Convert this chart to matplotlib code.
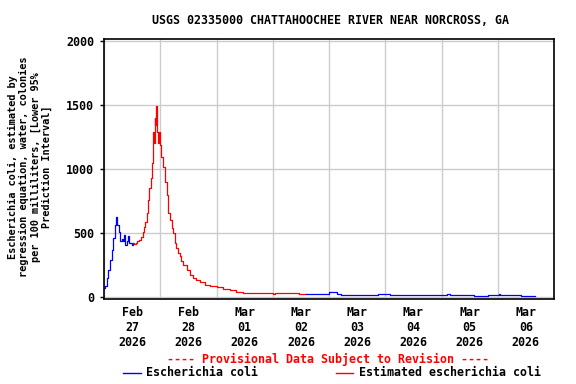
import numpy as np
import pandas as pd
import matplotlib
matplotlib.use('Agg')
import matplotlib.pyplot as plt
import matplotlib.dates as mdates
from matplotlib.lines import Line2D

# Hours after 2026-02-27 00:00 and values
start = pd.Timestamp('2026-02-27 00:00')

blue1_h = [0.0, 0.5, 1.1, 1.8, 2.6, 3.3, 4.0, 4.7, 5.2, 5.7, 6.2, 6.8, 7.5, 8.0,
           8.5, 9.1, 9.6, 10.2, 10.7, 11.3, 11.9, 12.3]
blue1_v = [70, 83, 148, 213, 291, 369, 460, 564, 624, 564, 512, 434, 452, 434,
           486, 408, 434, 478, 426, 421, 408, 421]

red_h = [12.3, 12.9, 13.5, 14.2, 15.0, 15.9, 16.5, 17.0, 17.6, 18.2, 18.7, 19.3,
         19.9, 20.3, 20.7, 21.0, 21.3, 21.6, 21.9, 22.3, 22.6, 23.0, 23.5, 24.0,
         24.5, 25.2, 26.0, 26.7, 27.4, 28.1, 28.8, 29.5, 30.2, 30.9, 31.6, 32.3,
         33.0, 33.7, 35.2, 36.6, 38.0, 39.4, 40.9, 43.0, 45.1, 48.0, 50.8, 53.6,
         56.5, 59.3, 65.0, 72.0, 73.0, 75.0, 83.0, 86.3]
red_v = [421, 413, 421, 434, 442, 468, 512, 551, 590, 655, 759, 850,
         928, 1045, 1097, 1292, 1201, 1396, 1344, 1492, 1292, 1201, 1292, 1188,
         1097, 1019, 902, 798, 655, 603, 538, 499, 421, 382, 343, 317,
         278, 252, 213, 174, 148, 130, 114, 96, 88, 78, 62, 52,
         41, 34, 31, 26, 31, 31, 26, 21]

blue2_h = [86.3, 96.0, 99.6, 101.0, 117.0, 122.0, 126.5, 146.5, 147.5, 158.0,
           164.0, 168.5, 169.0, 178.0, 184.0]
blue2_v = [21, 36, 26, 18, 26, 18, 18, 26, 18, 10,
           18, 26, 18, 8, 8]

title = 'USGS 02335000 CHATTAHOOCHEE RIVER NEAR NORCROSS, GA'
ylabel = ('Escherichia coli, estimated by\nregression equation, water, colonies\n'
          'per 100 milliliters, [Lower 95%\nPrediction Interval]')
yticks = [0, 500, 1000, 1500, 2000]


def to_time(hours):
    return start + pd.to_timedelta(hours, unit='h')


font = 'DejaVu Sans Mono'
fs = 8.4

fig = plt.figure(figsize=(5.76, 3.84), dpi=100)
ax = fig.add_axes([104 / 576, 1 - 299 / 384, 450 / 576, 260 / 384])

ax.plot(to_time(blue1_h), blue1_v, color='blue', lw=0.9, drawstyle='steps-post')
ax.plot(to_time(red_h), red_v, color='red', lw=0.9, drawstyle='steps-post')
ax.plot(to_time(blue2_h), blue2_v, color='blue', lw=0.9, drawstyle='steps-post')

ax.set_xlim(start, start + pd.Timedelta(days=8))
ax.set_ylim(-15, 2015)

# gridlines at midnight, labels at noon
ax.xaxis.set_major_locator(mdates.DayLocator())
ax.xaxis.set_major_formatter(plt.NullFormatter())
ax.xaxis.set_minor_locator(mdates.HourLocator(byhour=[12]))
ax.xaxis.set_minor_formatter(mdates.DateFormatter('%b\n%d\n%Y'))
ax.tick_params(axis='x', which='both', length=0, pad=5)
for lab in ax.get_xticklabels(minor=True):
    lab.set_fontfamily(font)
    lab.set_fontweight('bold')
    lab.set_fontsize(fs)

ax.set_yticks(yticks)
ax.tick_params(axis='y', length=3, width=1, pad=4)
for lab in ax.get_yticklabels():
    lab.set_fontfamily(font)
    lab.set_fontweight('bold')
    lab.set_fontsize(fs)

ax.grid(True, which='major', color='#cccccc', lw=1.0)
ax.set_axisbelow(True)
for s in ax.spines.values():
    s.set_linewidth(1.2)

fig.text(0.573, 1 - 20 / 384, title, ha='center', va='center',
         family=font, weight='bold', fontsize=fs)
fig.text(30 / 576, 1 - 167 / 384, ylabel, ha='center', va='center', rotation=90,
         family=font, weight='bold', fontsize=7.4, linespacing=1.15)
fig.text(328 / 576, 1 - 359 / 384, '---- Provisional Data Subject to Revision ----',
         ha='center', va='center', color='red', family=font, weight='bold', fontsize=fs)

ly = 1 - 372.5 / 384
fig.add_artist(Line2D([123 / 576, 141 / 576], [ly, ly], color='blue', lw=1.0))
fig.text(146 / 576, ly, 'Escherichia coli', ha='left', va='center',
         family=font, weight='bold', fontsize=fs)
fig.add_artist(Line2D([336 / 576, 353 / 576], [ly, ly], color='red', lw=1.0))
fig.text(359 / 576, ly, 'Estimated escherichia coli', ha='left', va='center',
         family=font, weight='bold', fontsize=fs)

fig.savefig('out.png', dpi=100)
